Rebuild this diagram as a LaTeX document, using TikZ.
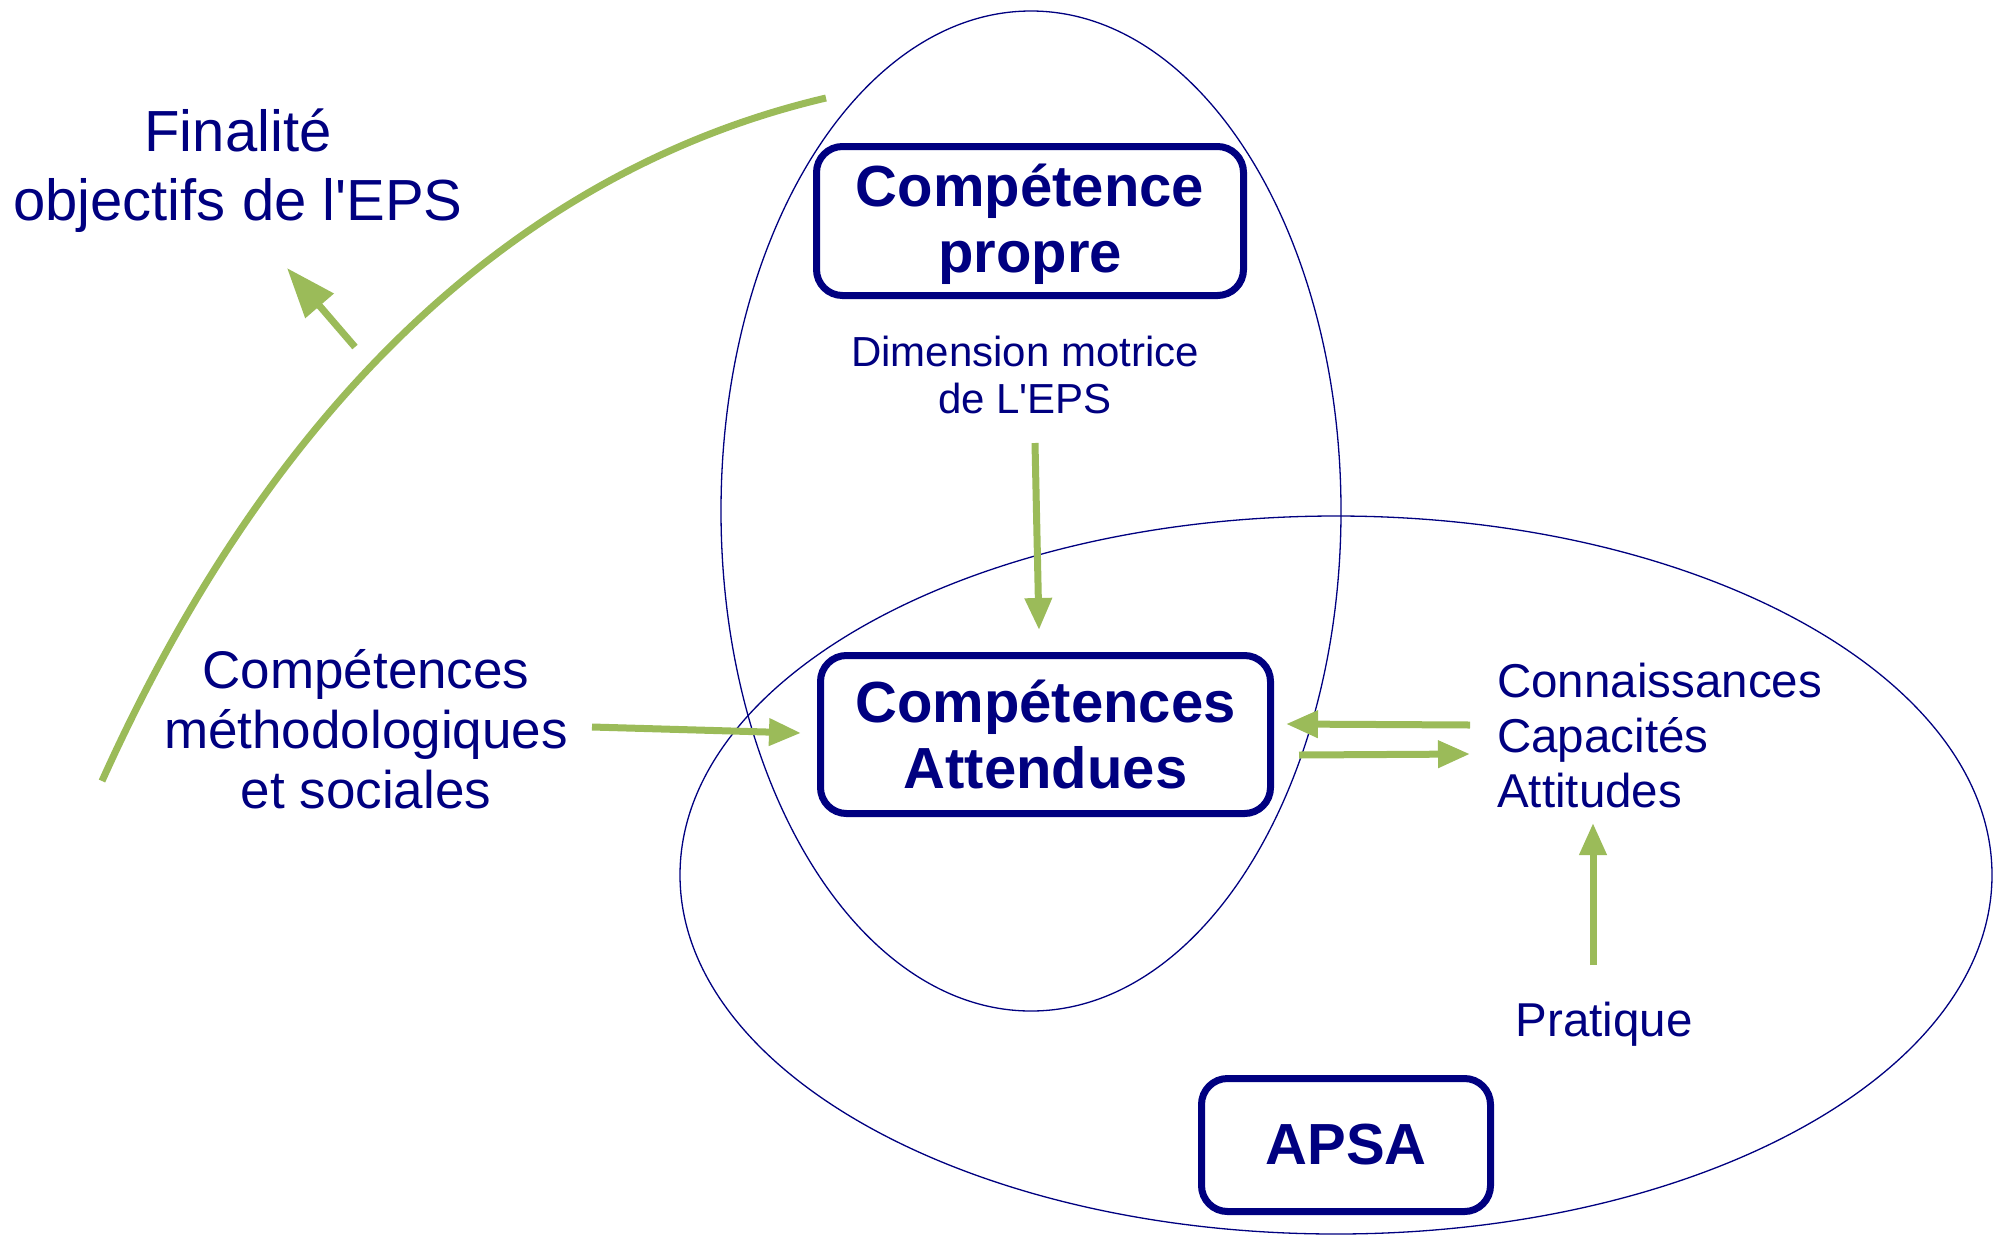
\documentclass[tikz,border=0pt]{standalone}
\usepackage{fontspec}
\setmainfont{Liberation Sans}
\usetikzlibrary{arrows.meta}
\definecolor{navyc}{HTML}{000080}
\definecolor{greenc}{HTML}{9BBB59}
\tikzset{
  ell/.style={draw=navyc, line width=1.3bp},
  boxnode/.style={draw=navyc, line width=7bp, rounded corners=26bp, align=center, text=navyc,
    font=\bfseries\fontsize{58bp}{66bp}\selectfont, inner sep=0pt},
  lbl/.style={text=navyc, align=center, inner sep=0pt},
  garrow/.style={draw=greenc, line width=7bp, -{Triangle[length=32bp,width=26bp]}},
  bigarrow/.style={draw=greenc, line width=7bp, -{Triangle[length=50bp,width=36bp]}},
}
\begin{document}
\begin{tikzpicture}[x=1bp,y=-1bp]
\useasboundingbox (0,0) rectangle (2001,1235);
% ellipses
\draw[ell] (1031,511) ellipse [x radius=310, y radius=500];
\draw[ell] (1336,875) ellipse [x radius=656, y radius=359];
% boxes
\node[boxnode, minimum width=427bp, minimum height=149bp] (cp) at (1030,221)
  {\raisebox{-5bp}[\height][\depth]{\begin{tabular}{@{}c@{}}Compétence\\propre\end{tabular}}};
\node[boxnode, minimum width=450bp, minimum height=158bp] (ca) at (1045.5,734.5) {Compétences\\Attendues};
\node[boxnode, minimum width=289bp, minimum height=133bp] (apsa) at (1346,1145) {APSA};
% labels
\node[lbl, font=\fontsize{58bp}{69bp}\selectfont] (fin) at (238,171) {Finalité\\objectifs de l\textquotesingle EPS};
\node[lbl, font=\fontsize{42bp}{47bp}\selectfont] (dim) at (1025,375) {Dimension motrice\\de L\textquotesingle EPS};
\node[lbl, font=\fontsize{53bp}{60bp}\selectfont] (meth) at (366,729) {Compétences\\méthodologiques\\et sociales};
\node[lbl, align=left, anchor=west, font=\fontsize{47.5bp}{55bp}\selectfont] (conn) at (1497,736) {Connaissances\\Capacités\\Attitudes};
\node[lbl, font=\fontsize{47.5bp}{55bp}\selectfont] (prat) at (1604,1024) {Pratique};
% connector endpoints
\coordinate (arcS) at (102,781);
\coordinate (arcE) at (826,98);
\coordinate (finS) at (355,347);
\coordinate (finE) at (287,268);
\coordinate (dimS) at (1035,443);
\coordinate (dimE) at (1039,630);
\coordinate (methS) at (592,727);
\coordinate (methE) at (801,733);
\coordinate (connS) at (1470,725);
\coordinate (connE) at (1286,724);
\coordinate (caS) at (1299,755);
\coordinate (caE) at (1470,754);
\coordinate (pratS) at (1593,965);
\coordinate (pratE) at (1593,823);
% connectors
\draw[draw=greenc, line width=7bp] (arcS) .. controls (281,383) and (536,166) .. (arcE);
\draw[bigarrow] (finS) -- (finE);
\draw[garrow] (dimS) -- (dimE);
\draw[garrow] (methS) -- (methE);
\draw[garrow] (connS) -- (connE);
\draw[garrow] (caS) -- (caE);
\draw[garrow] (pratS) -- (pratE);
\end{tikzpicture}
\end{document}
